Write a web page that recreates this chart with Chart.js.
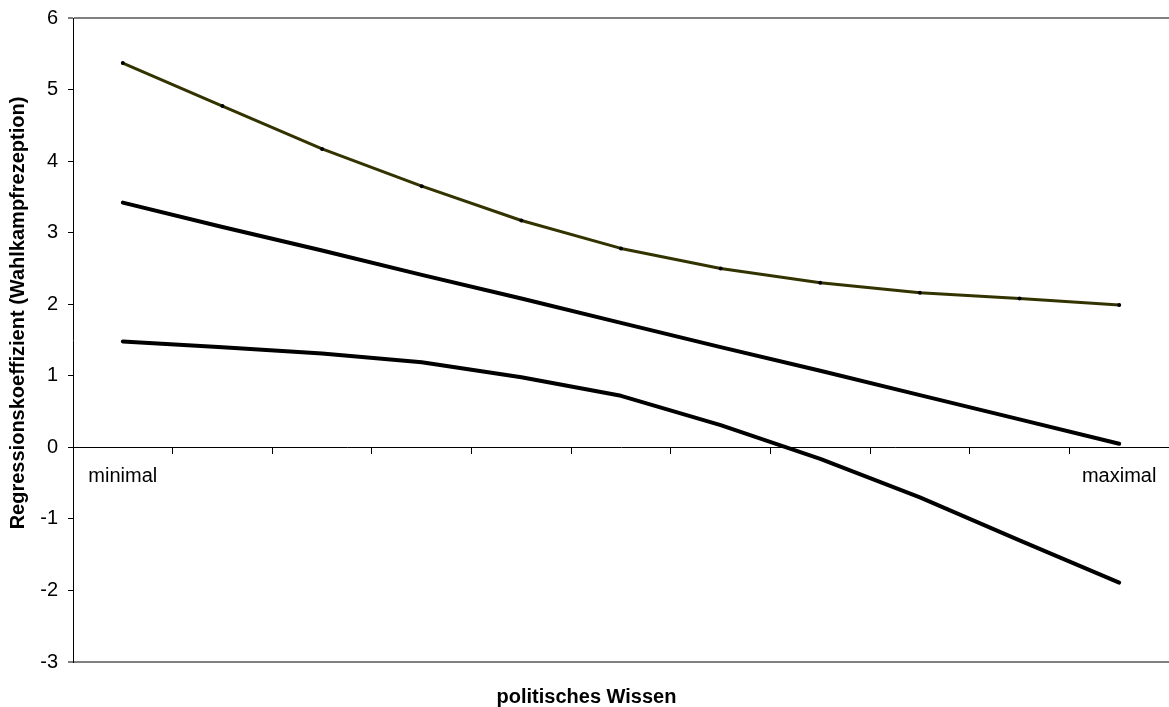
<!DOCTYPE html>
<html>
<head>
<meta charset="utf-8">
<script src="https://cdn.jsdelivr.net/npm/chart.js@4.4.1/dist/chart.umd.min.js"></script>
<style>
    html, body { margin: 0; padding: 0; background: #fff; overflow: hidden; }
    #wrap { width: 1173px; height: 707px; }
</style>
</head>
<body>
<div id="wrap"><canvas id="chart"></canvas></div>
<script>
// Daten
const categories = ['minimal', '', '', '', '', '', '', '', '', '', 'maximal'];
const upperBound = [5.37, 4.77, 4.17, 3.65, 3.17, 2.78, 2.50, 2.30, 2.16, 2.08, 1.99];
const coefficient = [3.42, 3.08, 2.75, 2.41, 2.08, 1.74, 1.40, 1.07, 0.73, 0.39, 0.05];
const lowerBound = [1.48, 1.40, 1.31, 1.19, 0.98, 0.72, 0.31, -0.16, -0.70, -1.30, -1.89];
const yTicks = [-3, -2, -1, 0, 1, 2, 3, 4, 5, 6];
const xTitle = 'politisches Wissen';
const yTitle = 'Regressionskoeffizient (Wahlkampfrezeption)';

const fontFamily = '"Liberation Sans", Arial, sans-serif';
Chart.defaults.font.family = fontFamily;
Chart.defaults.color = '#000';

// Achsentitel links, wie im Original etwas oberhalb der Mitte
const yTitlePlugin = {
    id: 'yTitle',
    afterDraw(chart) {
        const c = chart.ctx;
        c.save();
        c.translate(18, 313);
        c.rotate(-Math.PI / 2);
        c.font = 'bold 20px ' + fontFamily;
        c.fillStyle = '#000';
        c.textAlign = 'center';
        c.textBaseline = 'middle';
        c.fillText(yTitle, 0, 0);
        c.restore();
    }
};

const lineStyle = (color, width) => ({
    borderColor: color,
    backgroundColor: color,
    borderWidth: width,
    borderCapStyle: 'round',
    borderJoinStyle: 'round',
    tension: 0,
    fill: false
});

const isFrame = (c) => c.tick && (c.tick.value === yTicks[0] || c.tick.value === yTicks[yTicks.length - 1]);

const ctx = document.getElementById('chart').getContext('2d');

new Chart(ctx, {
    type: 'line',
    data: {
        labels: categories,
        datasets: [
            {
                label: 'obere Grenze',
                data: upperBound,
                ...lineStyle('#333300', 3),
                pointRadius: 2,
                pointBackgroundColor: '#000',
                pointBorderWidth: 0
            },
            {
                label: 'Koeffizient',
                data: coefficient,
                ...lineStyle('#000', 4),
                pointRadius: 0
            },
            {
                label: 'untere Grenze',
                data: lowerBound,
                ...lineStyle('#000', 4),
                pointRadius: 0
            }
        ]
    },
    options: {
        responsive: true,
        maintainAspectRatio: false,
        animation: false,
        layout: { padding: { top: 18, left: 0, right: 0, bottom: 0 } },
        scales: {
            x: {
                type: 'category',
                position: { y: 0 },
                offset: true,
                grid: {
                    offset: true,
                    drawOnChartArea: false,
                    tickLength: 6,
                    tickColor: '#000'
                },
                border: { color: '#000', width: 1 },
                ticks: {
                    autoSkip: false,
                    maxRotation: 0,
                    padding: 11,
                    color: '#000',
                    font: { size: 20 }
                },
                afterFit: (scale) => { scale.height = 0; }
            },
            y: {
                min: yTicks[0],
                max: yTicks[yTicks.length - 1],
                afterBuildTicks: (scale) => { scale.ticks = yTicks.map(v => ({ value: v })); },
                grid: {
                    drawOnChartArea: true,
                    color: (c) => isFrame(c) ? '#808080' : 'rgba(0,0,0,0)',
                    lineWidth: (c) => isFrame(c) ? 2 : 1,
                    tickColor: '#000',
                    tickWidth: 1,
                    tickLength: 5
                },
                border: { color: '#000', width: 1 },
                ticks: {
                    padding: 10,
                    color: '#000',
                    font: { size: 20 }
                },
                afterFit: (scale) => {
                    scale.width = 73;
                    scale.paddingTop = 0;
                    scale.paddingBottom = 0;
                }
            }
        },
        plugins: {
            legend: { display: false },
            tooltip: { enabled: false },
            title: {
                display: true,
                position: 'bottom',
                text: xTitle,
                color: '#000',
                font: { size: 20, weight: 'bold', lineHeight: 1 },
                padding: { top: 25, bottom: 0 }
            }
        }
    },
    plugins: [yTitlePlugin]
});
</script>
</body>
</html>
